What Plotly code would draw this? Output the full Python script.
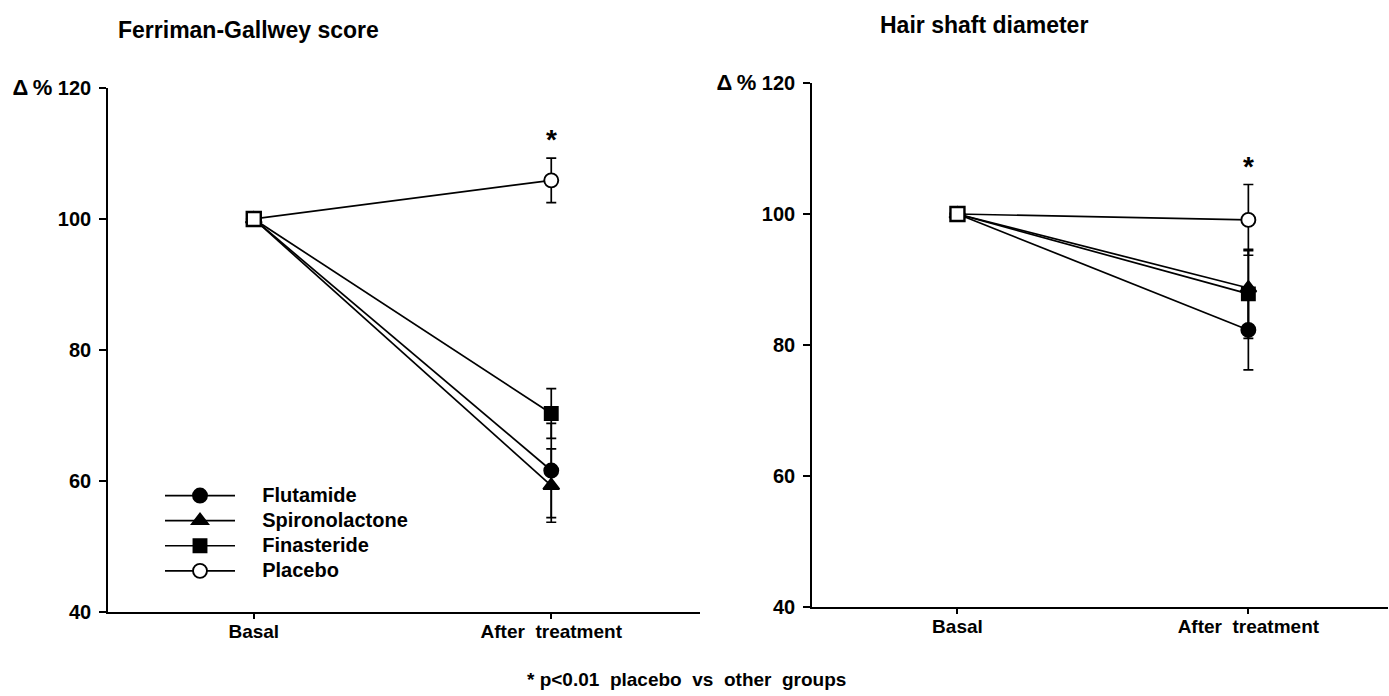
import plotly.graph_objects as go

# ---------------- data ----------------
timepoints = ["Basal", "After\u00a0\u00a0treatment"]
series_names = ["Flutamide", "Spironolactone", "Finasteride", "Placebo"]

# Ferriman-Gallwey score (% of basal)
fg_flutamide = [100, 61.6]
fg_spironolactone = [100, 59.3]
fg_finasteride = [100, 70.3]
fg_placebo = [100, 105.9]
fg_err_flutamide = [0, 7.2]
fg_err_spironolactone = [0, 5.6]
fg_err_finasteride = [0, 3.8]
fg_err_placebo = [0, 3.4]

# Hair shaft diameter (% of basal)
hs_flutamide = [100, 82.3]
hs_spironolactone = [100, 88.7]
hs_finasteride = [100, 87.8]
hs_placebo = [100, 99.1]
hs_err_flutamide = [0, 6.1]
hs_err_spironolactone = [0, 5.7]
hs_err_finasteride = [0, 6.8]
hs_err_placebo = [0, 5.4]

y_tickvals = [40, 60, 80, 100, 120]
y_ticktext = ["40", "60", "80", "100",
              "<span style='font-size:22px'>\u0394\u2009%</span>\u00a0120"]

panel_titles = ["Ferriman-Gallwey score", "Hair shaft diameter"]
footnote = "* p<0.01\u00a0\u00a0placebo\u00a0\u00a0vs\u00a0\u00a0other\u00a0\u00a0groups"

# ---------------- styles ----------------
FONT = "Liberation Sans, Arial, Helvetica, sans-serif"
BLACK = "#000000"
LEGEND_PAD = "\u00a0" * 4
styles = {
    "Flutamide": dict(symbol="circle", color=BLACK, size=14),
    "Spironolactone": dict(symbol="triangle-up", color=BLACK, size=14),
    "Finasteride": dict(symbol="square", color=BLACK, size=13),
    "Placebo": dict(symbol="circle", color="white", size=14),
}

fig = go.Figure()

panels = [
    ("x", "y", [fg_flutamide, fg_spironolactone, fg_finasteride, fg_placebo],
     [fg_err_flutamide, fg_err_spironolactone, fg_err_finasteride, fg_err_placebo], True),
    ("x2", "y2", [hs_flutamide, hs_spironolactone, hs_finasteride, hs_placebo],
     [hs_err_flutamide, hs_err_spironolactone, hs_err_finasteride, hs_err_placebo], False),
]

for xa, ya, vals, errs, show in panels:
    for name, v, e in zip(series_names, vals, errs):
        st = styles[name]
        fig.add_trace(go.Scatter(
            x=timepoints, y=v, xaxis=xa, yaxis=ya,
            name="<span style='font-size:20px'>" + LEGEND_PAD + name + "</span>",
            mode="lines+markers", showlegend=show,
            line=dict(color=BLACK, width=1.7),
            marker=dict(symbol=st["symbol"], size=st["size"], color=st["color"],
                        line=dict(color=BLACK, width=1.9)),
            error_y=dict(type="data", array=e, visible=True, color=BLACK,
                         thickness=1.7, width=5),
            cliponaxis=False,
        ))
    # overlapping basal markers appear as an open square
    fig.add_trace(go.Scatter(
        x=[timepoints[0]], y=[vals[3][0]], xaxis=xa, yaxis=ya, mode="markers",
        showlegend=False, hoverinfo="skip",
        marker=dict(symbol="square", size=14, color="white",
                    line=dict(color=BLACK, width=2.4)),
        cliponaxis=False,
    ))
    # significance asterisk above placebo
    fig.add_annotation(
        x=timepoints[1], y=vals[3][1] + errs[3][1], xref=xa, yref=ya,
        text="*", showarrow=False, xanchor="center", yanchor="bottom", yshift=1,
        font=dict(family=FONT, size=28, color=BLACK, weight=700),
    )

W, H = 1389, 696
axis_common = dict(
    showline=True, linecolor=BLACK, linewidth=1.7, ticks="outside",
    tickcolor=BLACK, tickwidth=1.7, showgrid=False, zeroline=False,
    automargin=False,
)
xtickfont = dict(family=FONT, size=19, color=BLACK, weight=700)
ytickfont = dict(family=FONT, size=20, color=BLACK, weight=700)

fig.update_layout(
    width=W, height=H, autosize=False, paper_bgcolor="white", plot_bgcolor="white",
    margin=dict(l=0, r=0, t=0, b=0, pad=0, autoexpand=False),
    font=dict(family=FONT, color=BLACK),
    xaxis=dict(domain=[108 / W, 700 / W], type="category", range=[-0.49, 1.5],
               ticklen=5, ticklabelstandoff=-4, anchor="y", tickfont=xtickfont,
               **axis_common),
    yaxis=dict(domain=[(H - 612) / H, (H - 88) / H], range=[40, 120],
               tickvals=y_tickvals, ticktext=y_ticktext, ticklen=7,
               ticklabelstandoff=4, anchor="x", tickfont=ytickfont, **axis_common),
    xaxis2=dict(domain=[812 / W, 1388 / W], type="category", range=[-0.5, 1.48],
                ticklen=5, ticklabelstandoff=-4, anchor="y2", tickfont=xtickfont,
                **axis_common),
    yaxis2=dict(domain=[(H - 607) / H, (H - 83) / H], range=[40, 120],
                tickvals=y_tickvals, ticktext=y_ticktext, ticklen=7,
                ticklabelstandoff=4, anchor="x2", tickfont=ytickfont, **axis_common),
    legend=dict(x=160 / W, y=1 - 478 / H, xanchor="left", yanchor="top",
                bgcolor="rgba(0,0,0,0)", itemwidth=70,
                font=dict(family=FONT, size=17, color=BLACK, weight=700)),
    showlegend=True,
)

fig.add_annotation(x=248 / W, y=1 - 30 / H, xref="paper", yref="paper",
                   xanchor="center", yanchor="middle",
                   text=panel_titles[0], showarrow=False,
                   font=dict(family=FONT, size=23, color=BLACK, weight=700))
fig.add_annotation(x=984 / W, y=1 - 25 / H, xref="paper", yref="paper",
                   xanchor="center", yanchor="middle",
                   text=panel_titles[1], showarrow=False,
                   font=dict(family=FONT, size=23, color=BLACK, weight=700))
fig.add_annotation(x=686 / W, y=1 - 679 / H, xref="paper", yref="paper",
                   xanchor="center", yanchor="middle",
                   text=footnote, showarrow=False,
                   font=dict(family=FONT, size=19, color=BLACK, weight=700))

fig.write_html(
    "out.html",
    config={"displayModeBar": False},
    post_script=(
        "document.documentElement.style.margin='0px';"
        "document.body.style.margin='0px';"
        "document.body.style.overflow='hidden';"
        "var gd=document.getElementById('{plot_id}');"
        "gd.style.position='fixed';gd.style.top='0px';gd.style.left='0px';"
    ),
)
